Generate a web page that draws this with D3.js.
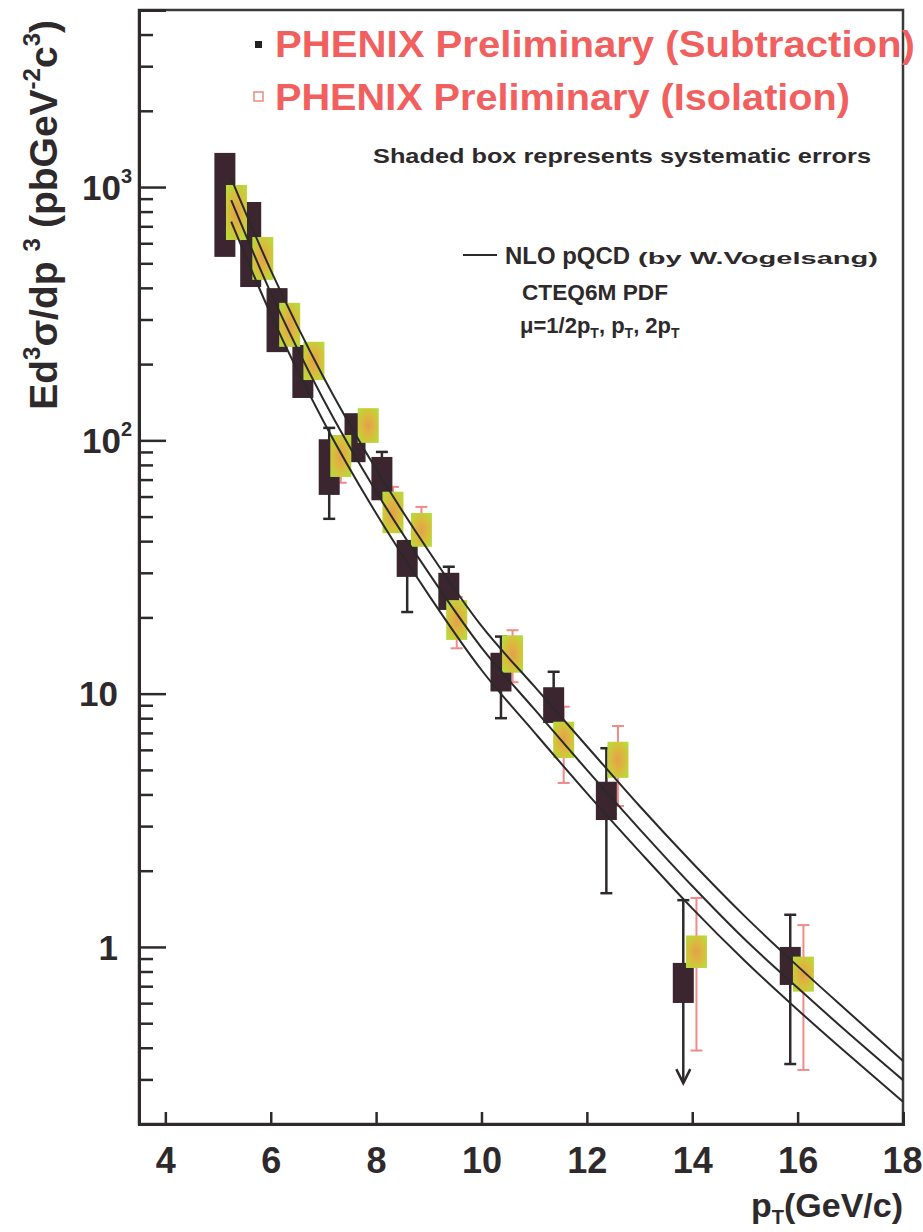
<!DOCTYPE html>
<html><head><meta charset="utf-8">
<script src="https://cdnjs.cloudflare.com/ajax/libs/d3/7.8.5/d3.min.js"></script>
<style>
html,body{margin:0;padding:0;background:#fff;}
svg{display:block;font-family:"Liberation Sans",Arial,sans-serif;font-weight:bold;}
</style></head>
<body>
<svg id="chart" width="923" height="1232"></svg>
<script>
// ---- data ----
const xTicks = [4, 6, 8, 10, 12, 14, 16, 18];
const yMajorTicks = [1, 10, 100, 1000];

// Subtraction method (dark boxes)
const subX      = [5.13, 5.62, 6.12, 6.61, 7.11, 7.60, 8.11, 8.59, 9.38, 10.37, 11.37, 12.37, 13.83, 15.86];
const subY      = [858, 593, 299, 187, 78.5, 102.6, 70.7, 34.2, 25.3, 12.1, 9.0, 3.78, 0.721, 0.843];
const subSysLo  = [530, 403, 223, 147, 60.9, 82, 58, 28.9, 21.4, 10.2, 7.66, 3.17, 0.601, 0.708];
const subSysHi  = [1364, 873, 399, 238, 101, 128, 86, 40.4, 30, 14.5, 10.6, 4.49, 0.865, 1.0];
const subStatLo = [700, 520, 260, 165, 49, 90, 62, 21, 22, 8.0, 8.0, 1.63, 0.29, 0.345];
const subStatHi = [1050, 680, 340, 210, 112, 115, 90, 40, 31.7, 16.8, 12.2, 6.09, 1.53, 1.34];
const subUpperLimit = [false, false, false, false, false, false, false, false, false, false, false, false, true, false];

// Isolation method (shaded green boxes)
const isoX      = [5.35, 5.85, 6.36, 6.82, 7.33, 7.85, 8.32, 8.86, 9.53, 10.59, 11.56, 12.59, 14.08, 16.11];
const isoY      = [794, 525, 285, 206, 86.8, 114.5, 52, 44.3, 19.5, 14.3, 6.56, 5.47, 0.96, 0.782];
const isoSysLo  = [618, 430, 234, 173, 71.7, 97.7, 43, 38, 16.3, 12.1, 5.57, 4.65, 0.826, 0.666];
const isoSysHi  = [1019, 635, 349, 245, 105, 134, 62.7, 51.7, 23.4, 17, 7.75, 6.46, 1.11, 0.916];
const isoStatLo = [700, 470, 255, 190, 68, 105, 48, 40, 15.1, 11.1, 4.44, 3.6, 0.39, 0.327];
const isoStatHi = [900, 585, 320, 225, 95, 125, 65.5, 54.6, 24.1, 17.8, 8.88, 7.45, 1.56, 1.22];

// NLO pQCD curves, mu = pT/2, pT, 2pT
const thX     = [5.25, 6, 7, 8, 9, 10, 11, 12, 13, 14, 15, 16, 17, 18];
const thUpper = [1080, 470, 178, 77, 36.5, 18.5, 10.7, 6.2, 3.6, 2.15, 1.32, 0.84, 0.545, 0.355];
const thMid   = [887, 383, 145, 62.8, 29.9, 15.2, 8.7, 5.0, 2.92, 1.74, 1.07, 0.69, 0.45, 0.298];
const thLower = [730, 315, 119, 51.5, 24.5, 12.4, 7.05, 4.05, 2.38, 1.42, 0.88, 0.565, 0.37, 0.245];

// ---- drawing ----
const svg = d3.select("#chart");
const L = 139, R = 903, T = 10, B = 1124;
const x = d3.scaleLinear().domain([3.5, 18]).range([L, R]);
const y = d3.scaleLog().domain([0.2, 5000]).range([B, T]);
const ink = "#2e2a2c";

// defs: gradient for isolation boxes
const defs = svg.append("defs");
const g = defs.append("radialGradient").attr("id", "isoGrad").attr("cx", "50%").attr("cy", "50%").attr("r", "70%");
g.append("stop").attr("offset", "0%").attr("stop-color", "#e4a04a");
g.append("stop").attr("offset", "50%").attr("stop-color", "#d8be3c");
g.append("stop").attr("offset", "100%").attr("stop-color", "#aee23a");

// frame
svg.append("rect").attr("x", L).attr("y", T).attr("width", R - L).attr("height", B - T)
  .attr("fill", "none").attr("stroke", "#3a3a3a").attr("stroke-width", 2.5);

// y axis major ticks
const yAxis = d3.axisLeft(y).tickValues(yMajorTicks).tickSize(-27).tickPadding(21).tickFormat(() => "");
const ya = svg.append("g").attr("transform", `translate(${L},0)`).call(yAxis);
ya.select(".domain").attr("stroke", ink).attr("stroke-width", 3);
ya.selectAll(".tick line").attr("stroke", ink).attr("stroke-width", 2.5);

// y minor ticks
const minor = [];
[0.1, 1, 10, 100, 1000].forEach(dec => { for (let k = 2; k <= 9; k++) { const v = k * dec; if (v > 0.2 && v < 5000) minor.push(v); } });
const yMinor = d3.axisLeft(y).tickValues(minor).tickSize(-14).tickFormat(() => "");
const ym = svg.append("g").attr("transform", `translate(${L},0)`).call(yMinor);
ym.select(".domain").remove();
ym.selectAll(".tick line").attr("stroke", ink).attr("stroke-width", 2.5);

// y tick labels
const ylab = svg.append("g").attr("fill", ink).attr("font-size", 35);
yMajorTicks.forEach(v => {
  const t = ylab.append("text").attr("y", y(v)).attr("dy", "0.36em").attr("text-anchor", "end");
  if (v >= 100) {
    t.attr("x", L - 7);
    t.append("tspan").text("10");
    t.append("tspan").attr("font-size", 20).attr("dy", "-0.85em").text(String(Math.round(Math.log10(v))));
  } else {
    t.attr("x", L - 21).text(String(v));
  }
});

// x axis
const xAxis = d3.axisBottom(x).tickValues(xTicks).tickSize(-12).tickPadding(23).tickFormat(d3.format("d"));
const xa = svg.append("g").attr("transform", `translate(0,${B})`).call(xAxis);
xa.select(".domain").attr("stroke", ink).attr("stroke-width", 3);
xa.selectAll(".tick line").attr("stroke", ink).attr("stroke-width", 2.5);
xa.selectAll(".tick text").attr("fill", ink).attr("font-size", 36).attr("font-family", '"Liberation Sans",Arial,sans-serif').attr("font-weight", "bold");
xa.selectAll(".tick text").filter(d => d === 18).attr("text-anchor", "end").attr("dx", 19);

// axis titles
const xt = svg.append("text").attr("x", 903).attr("y", 1217).attr("text-anchor", "end").attr("font-size", 34).attr("fill", ink);
xt.append("tspan").text("p");
xt.append("tspan").attr("font-size", 20).attr("dy", 7).text("T");
xt.append("tspan").attr("dy", -7).text("(GeV/c)");

const yt = svg.append("text").attr("transform", "translate(57,20) rotate(-90)").attr("text-anchor", "end")
  .attr("font-size", 39).attr("fill", ink);
yt.append("tspan").text("Ed");
yt.append("tspan").attr("font-size", 24).attr("dy", -17).text("3");
yt.append("tspan").attr("dy", 17).text("σ/dp");
yt.append("tspan").attr("font-size", 24).attr("dy", -17).attr("dx", 10).text("3");
yt.append("tspan").attr("dy", 17).attr("dx", 10).text("(pbGeV");
yt.append("tspan").attr("font-size", 24).attr("dy", -17).text("-2");
yt.append("tspan").attr("dy", 17).text("c");
yt.append("tspan").attr("font-size", 24).attr("dy", -17).text("3");
yt.append("tspan").attr("dy", 17).text(")");

// data layers
const plot = svg.append("g");
const BW = 21;

const subData = subX.map((v, i) => ({ x: v, y: subY[i], lo: subSysLo[i], hi: subSysHi[i], slo: subStatLo[i], shi: subStatHi[i], ul: subUpperLimit[i] }));
const isoData = isoX.map((v, i) => ({ x: v, y: isoY[i], lo: isoSysLo[i], hi: isoSysHi[i], slo: isoStatLo[i], shi: isoStatHi[i] }));

// subtraction stat error bars
const subErr = plot.append("g").attr("stroke", ink).attr("stroke-width", 2.5);
subData.forEach(d => {
  subErr.append("line").attr("x1", x(d.x)).attr("x2", x(d.x)).attr("y1", y(d.shi)).attr("y2", y(d.slo));
  subErr.append("line").attr("x1", x(d.x) - 6).attr("x2", x(d.x) + 6).attr("y1", y(d.shi)).attr("y2", y(d.shi));
  if (d.ul) {
    subErr.append("path").attr("fill", "none")
      .attr("d", `M${x(d.x) - 7},${y(d.slo) - 14}L${x(d.x)},${y(d.slo)}L${x(d.x) + 7},${y(d.slo) - 14}`);
  } else {
    subErr.append("line").attr("x1", x(d.x) - 6).attr("x2", x(d.x) + 6).attr("y1", y(d.slo)).attr("y2", y(d.slo));
  }
});

// iso stat error bars
const isoErr = plot.append("g").attr("stroke", "#f28a8a").attr("stroke-width", 2);
isoData.forEach(d => {
  isoErr.append("line").attr("x1", x(d.x)).attr("x2", x(d.x)).attr("y1", y(d.shi)).attr("y2", y(d.slo));
  isoErr.append("line").attr("x1", x(d.x) - 6).attr("x2", x(d.x) + 6).attr("y1", y(d.shi)).attr("y2", y(d.shi));
  isoErr.append("line").attr("x1", x(d.x) - 6).attr("x2", x(d.x) + 6).attr("y1", y(d.slo)).attr("y2", y(d.slo));
});

// subtraction boxes
plot.append("g").selectAll("rect").data(subData).join("rect")
  .attr("x", d => x(d.x) - BW / 2).attr("width", BW)
  .attr("y", d => y(d.hi)).attr("height", d => y(d.lo) - y(d.hi))
  .attr("fill", "#3b2630");

// isolation boxes
plot.append("g").selectAll("rect").data(isoData).join("rect")
  .attr("x", d => x(d.x) - BW / 2).attr("width", BW)
  .attr("y", d => y(d.hi)).attr("height", d => y(d.lo) - y(d.hi))
  .attr("fill", "url(#isoGrad)");

// theory curves
const line = d3.line().x(d => x(d[0])).y(d => y(d[1])).curve(d3.curveMonotoneX);
[thUpper, thMid, thLower].forEach(arr => {
  plot.append("path").datum(thX.map((v, i) => [v, arr[i]]))
    .attr("d", line).attr("fill", "none").attr("stroke", "#2a2a2a").attr("stroke-width", 2);
});

// legend
const leg = svg.append("g");
const red = "#f25f5f";
leg.append("rect").attr("x", 255).attr("y", 41).attr("width", 7).attr("height", 7).attr("fill", "#222");
leg.append("rect").attr("x", 254).attr("y", 92).attr("width", 9).attr("height", 9).attr("fill", "none").attr("stroke", "#f08a7a").attr("stroke-width", 1.5);
leg.append("text").attr("x", 275).attr("y", 57).attr("font-size", 37).attr("fill", red)
  .attr("textLength", 640).attr("lengthAdjust", "spacingAndGlyphs").text("PHENIX Preliminary (Subtraction)");
leg.append("text").attr("x", 275).attr("y", 110).attr("font-size", 37).attr("fill", red)
  .attr("textLength", 575).attr("lengthAdjust", "spacingAndGlyphs").text("PHENIX Preliminary (Isolation)");
leg.append("text").attr("x", 373).attr("y", 163).attr("font-size", 21).attr("fill", ink)
  .attr("textLength", 498).attr("lengthAdjust", "spacingAndGlyphs").text("Shaded box represents systematic errors");

leg.append("line").attr("x1", 463).attr("x2", 497).attr("y1", 255).attr("y2", 255).attr("stroke", "#2a2a2a").attr("stroke-width", 2);
leg.append("text").attr("x", 505).attr("y", 264).attr("font-size", 23).attr("fill", ink)
  .attr("textLength", 125).attr("lengthAdjust", "spacingAndGlyphs").text("NLO pQCD");
leg.append("text").attr("x", 638).attr("y", 264).attr("font-size", 17).attr("fill", ink)
  .attr("textLength", 240).attr("lengthAdjust", "spacingAndGlyphs").text("(by W.Vogelsang)");
leg.append("text").attr("x", 522).attr("y", 300).attr("font-size", 22).attr("fill", ink)
  .attr("textLength", 146).attr("lengthAdjust", "spacingAndGlyphs").text("CTEQ6M PDF");
const mu = leg.append("text").attr("x", 520).attr("y", 333).attr("font-size", 22).attr("fill", ink);
mu.append("tspan").text("μ=1/2p");
mu.append("tspan").attr("font-size", 14).attr("dy", 5).text("T");
mu.append("tspan").attr("dy", -5).text(", p");
mu.append("tspan").attr("font-size", 14).attr("dy", 5).text("T");
mu.append("tspan").attr("dy", -5).text(", 2p");
mu.append("tspan").attr("font-size", 14).attr("dy", 5).text("T");
</script>
</body></html>
